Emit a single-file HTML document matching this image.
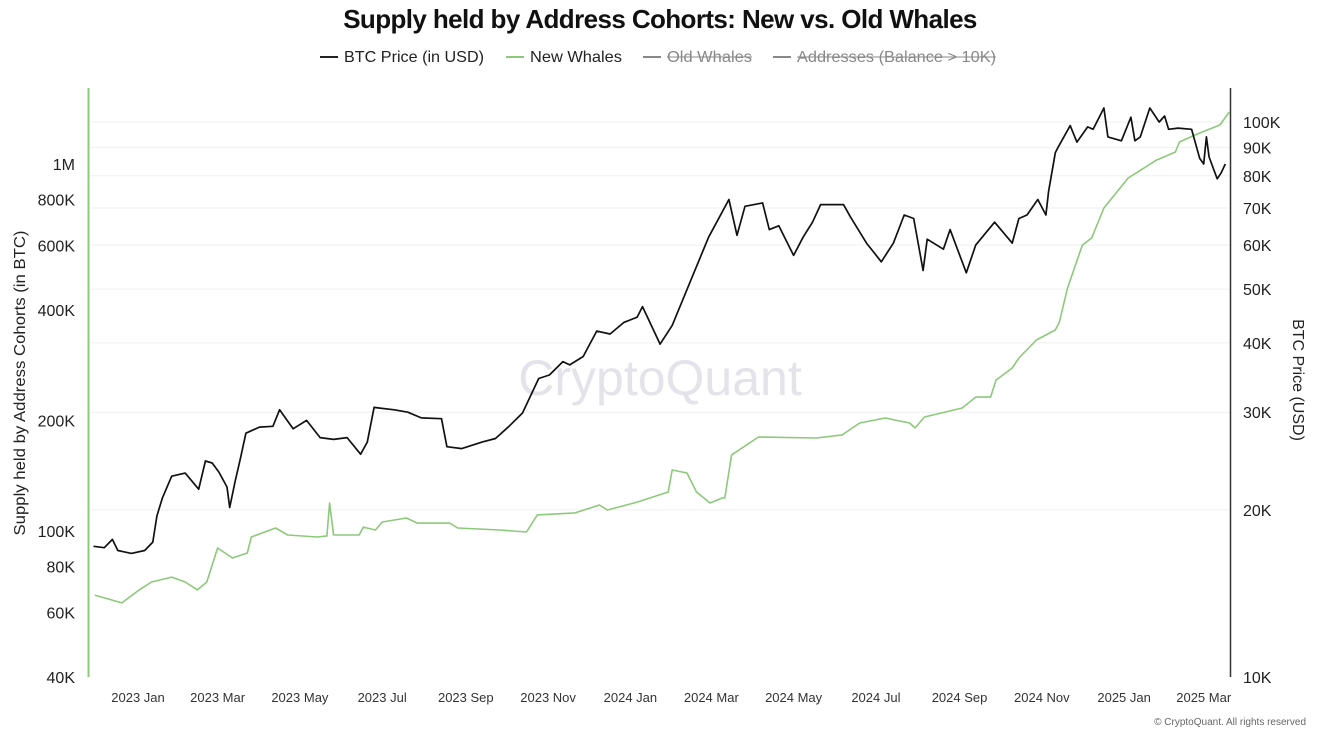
<!DOCTYPE html>
<html><head><meta charset="utf-8">
<style>
html,body{margin:0;padding:0;background:#fff;}
body{width:1326px;height:742px;overflow:hidden;font-family:"Liberation Sans",sans-serif;}
svg text{font-family:"Liberation Sans",sans-serif;}
</style></head>
<body>
<svg id="chart" width="1326" height="742" viewBox="0 0 1326 742" xmlns="http://www.w3.org/2000/svg">
  <text x="660" y="28" text-anchor="middle" font-size="26" font-weight="bold" fill="#111" letter-spacing="-0.6">Supply held by Address Cohorts: New vs. Old Whales</text>
  <g font-size="16">
    <g><line x1="320" y1="57" x2="338" y2="57" stroke="#222" stroke-width="2"/><text x="344" y="62" fill="#222" textLength="140" lengthAdjust="spacingAndGlyphs">BTC Price (in USD)</text></g>
    <g><line x1="506" y1="57" x2="524" y2="57" stroke="#8cc97a" stroke-width="2"/><text x="530" y="62" fill="#222" textLength="92" lengthAdjust="spacingAndGlyphs">New Whales</text></g>
    <g><line x1="643" y1="57" x2="661" y2="57" stroke="#888" stroke-width="2"/><text x="667" y="62" fill="#888" textLength="85" lengthAdjust="spacingAndGlyphs">Old Whales</text><line x1="667" y1="57" x2="752" y2="57" stroke="#888" stroke-width="1"/></g>
    <g><line x1="773" y1="57" x2="791" y2="57" stroke="#888" stroke-width="2"/><text x="797" y="62" fill="#888" textLength="199" lengthAdjust="spacingAndGlyphs">Addresses (Balance &gt; 10K)</text><line x1="797" y1="57" x2="996" y2="57" stroke="#888" stroke-width="1"/></g>
  </g>
  <g id="grid"></g>
  <text x="660" y="395" text-anchor="middle" font-size="50" fill="#e4e3ea">CryptoQuant</text>
  <g id="yl"></g>
  <g id="yr"></g>
  <g id="xa"></g>
  <g id="series"></g>
  <text transform="translate(25,383) rotate(-90)" text-anchor="middle" font-size="16" fill="#222" textLength="305" lengthAdjust="spacingAndGlyphs">Supply held by Address Cohorts (in BTC)</text>
  <text transform="translate(1293,380) rotate(90)" text-anchor="middle" font-size="16" fill="#222">BTC Price (USD)</text>
  <text x="1306" y="725" text-anchor="end" font-size="10" fill="#666">© CryptoQuant. All rights reserved</text>
</svg>
<script>
// days since 2023-01-01
const priceDays = [-33,-25,-19,-15,-5,5,11,14,18,25,35,45,50,55,60,66,68,72,76,80,90,100,105,115,125,135,145,155,165,170,175,190,200,210,225,229,240,255,265,275,285,297,305,315,320,330,340,350,360,370,374,387,396,410,423,429,438,444,450,463,468,475,486,493,500,506,523,528,540,551,560,568,575,582,585,597,602,614,621,635,648,653,659,667,673,675,680,682,691,696,704,708,716,719,729,736,739,743,750,757,761,764,771,781,787,790,792,794,800,803,806];
const btcPrice = [17.2,17.1,17.7,16.9,16.7,16.9,17.5,19.5,21,23,23.3,21.8,24.5,24.3,23.4,22,20.2,22.5,24.8,27.5,28.2,28.3,30.3,28,29,27,26.8,27,25.2,26.5,30.6,30.3,30,29.3,29.2,26,25.8,26.5,26.9,28.3,29.9,34.5,35,37,36.5,37.8,42,41.5,43.5,44.5,46.5,39.8,43,52,62,66,72.5,62.5,70.5,71.5,64,65,57.5,62,66,71,71,67.5,60.5,56,60.5,68,67,54,61.5,59,64,53.5,60,66,60.5,67,68,72.5,68,75,88,90,98.5,92,98,97,106,94,92.5,102,92.5,94,106,100,102.5,97,97.5,97,86,84,94,86.5,79,81,84];
const whaleDays = [-32,-12,1,10,25,35,44,51,59,70,81,84,102,111,133,140,142,145,164,167,176,181,199,207,231,237,268,288,296,324,342,348,370,393,396,407,414,424,433,435,440,460,503,522,535,554,572,576,583,611,621,632,636,648,653,666,680,683,689,700,707,716,734,755,769,772,787,802,809];
const newWhales = [66.9,63.7,69.1,72.6,74.9,72.6,69.1,72.6,89.9,84.4,87.1,96.3,101.9,97.5,96.3,97,119.2,97.5,97.5,102.5,100.6,105.8,108.5,105.1,105.1,101.9,100.6,99.4,110.6,112,117.7,114.1,119.9,127.7,146.6,143.9,127.7,119.2,123,123,161.2,180.3,179.2,182.7,196.9,203.2,196.9,190.9,204.5,216.3,231.7,231.7,257.8,278,296,331.5,353,371,459,601,629,759,916,1025,1078,1148,1215,1277,1386];
const leftTicks = [40,60,80,100,200,400,600,800,1000];
const leftTickLabels = ["40K","60K","80K","100K","200K","400K","600K","800K","1M"];
const rightTicks = [10,20,30,40,50,60,70,80,90,100];
const rightTickLabels = ["10K","20K","30K","40K","50K","60K","70K","80K","90K","100K"];
const xTickDays = [0,59,120,181,243,304,365,425,486,547,609,670,731,790];
const xTickLabels = ["2023 Jan","2023 Mar","2023 May","2023 Jul","2023 Sep","2023 Nov","2024 Jan","2024 Mar","2024 May","2024 Jul","2024 Sep","2024 Nov","2025 Jan","2025 Mar"];

const NS="http://www.w3.org/2000/svg";
const X0=90, X1=1230, YB=677, YT=88;
const xS = d => 138 + d*1.349;
const yL = v => 531 - 367*Math.log10(v/100);
const yR = v => 677 - 555*Math.log10(v/10);
function mk(tag, attrs, parent){const e=document.createElementNS(NS,tag);for(const k in attrs)e.setAttribute(k,attrs[k]);parent.appendChild(e);return e;}
const grid=document.getElementById('grid'), yl=document.getElementById('yl'), yr=document.getElementById('yr'), xa=document.getElementById('xa'), ser=document.getElementById('series');

rightTicks.forEach((v,i)=>{
  if(v>10){const g=mk('line',{x1:X0,x2:X1,y1:yR(v),y2:yR(v),stroke:'#efefef','stroke-width':1},grid);
  
  }
  const t=mk('text',{x:1243,y:yR(v)+6,'font-size':16,fill:'#222'},yr);
  t.textContent=rightTickLabels[i];
  
  
});
leftTicks.forEach((v,i)=>{
  const t=mk('text',{x:75,y:yL(v)+6,'font-size':16,fill:'#222','text-anchor':'end'},yl);
  t.textContent=leftTickLabels[i];
  
  
});
xTickDays.forEach((d,i)=>{
  const t=mk('text',{x:xS(d),y:702,'font-size':13,fill:'#333','text-anchor':'middle'},xa);
  t.textContent=xTickLabels[i];
  
  
});
const la=mk('line',{x1:88.5,x2:88.5,y1:YT,y2:YB,stroke:'#8cc97a','stroke-width':2},yl);


const ra=mk('line',{x1:1230.5,x2:1230.5,y1:YT,y2:YB,stroke:'#333','stroke-width':1.5},yr);



const gp=mk('polyline',{points:whaleDays.map((d,i)=>xS(d).toFixed(1)+','+yL(newWhales[i]).toFixed(1)).join(' '),fill:'none',stroke:'#8cc97a','stroke-width':1.6,'stroke-linejoin':'round'},ser);


const bp=mk('polyline',{points:priceDays.map((d,i)=>xS(d).toFixed(1)+','+yR(btcPrice[i]).toFixed(1)).join(' '),fill:'none',stroke:'#111','stroke-width':1.7,'stroke-linejoin':'round'},ser);


</script>
</body></html>
